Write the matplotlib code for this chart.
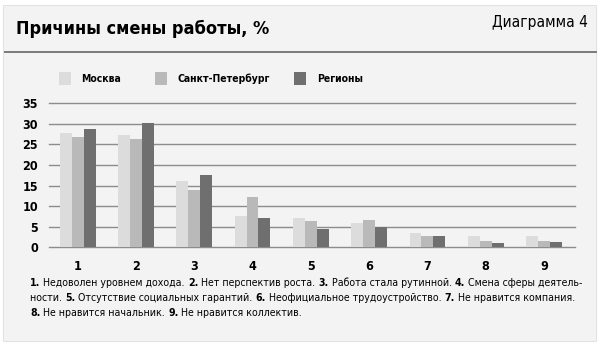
import matplotlib.pyplot as plt
import numpy as np
from matplotlib.patches import Rectangle
from matplotlib.lines import Line2D

# reasons for changing jobs, % of respondents
categories = ["1", "2", "3", "4", "5", "6", "7", "8", "9"]
moscow = [27.7, 27.4, 16.2, 7.5, 7.2, 5.8, 3.4, 2.8, 2.8]
spb = [26.8, 26.3, 14.0, 12.2, 6.3, 6.7, 2.7, 1.5, 1.5]
regions = [28.7, 30.1, 17.5, 7.1, 4.4, 5.0, 2.7, 1.1, 1.2]
series_names = ["Москва", "Санкт-Петербург", "Регионы"]
yticks = [0, 5, 10, 15, 20, 25, 30, 35]

plt.rcParams["font.family"] = "DejaVu Sans"
plt.rcParams["font.stretch"] = "condensed"
colors = ["#dcdcdc", "#b9b9b9", "#6f6f6f"]
bg = "#f3f3f3"

fig = plt.figure(figsize=(6, 3.47), dpi=100)
fig.patch.set_facecolor("white")
fig.canvas.draw()
renderer = fig.canvas.get_renderer()


def px(x, y):
    return x / 600, 1 - y / 347


def fit(t, width):
    # shrink/grow the font so the text spans the given pixel width
    w = t.get_window_extent(renderer).width
    t.set_fontsize(t.get_fontsize() * width / w)


# panel background and header rule
fig.add_artist(Rectangle(px(3, 341), 593 / 600, 336 / 347,
                         transform=fig.transFigure, facecolor=bg,
                         edgecolor="#e2e2e2", lw=0.8, zorder=0))
fig.add_artist(Line2D([5 / 600, 596 / 600], [1 - 52 / 347] * 2,
                      transform=fig.transFigure, color="#7a7a7a", lw=1.4))

title = fig.text(*px(16, 28.5), "Причины смены работы, %", fontsize=15,
                 fontweight="bold", va="center", ha="left")
fit(title, 254)
label = fig.text(*px(588, 22), "Диаграмма 4", fontsize=12,
                 va="center", ha="right")
fit(label, 95)

ax = fig.add_axes([49 / 600, 1 - 247.3 / 347, 526 / 600, 144 / 347])
ax.set_facecolor(bg)

x = np.arange(1, len(categories) + 1)
w = 0.205
for i, (vals, c) in enumerate(zip([moscow, spb, regions], colors)):
    ax.bar(x + (i - 1) * w, vals, width=w, color=c, zorder=3, lw=0)

for t in yticks:
    ax.axhline(t, color="#8c8c8c", lw=1, zorder=1, clip_on=False)

ax.set_xlim(0.51, 9.53)
ax.set_ylim(0, 35)
ax.set_yticks(yticks)
ax.set_xticks(x)
ax.set_xticklabels(categories)
for lab in ax.get_yticklabels() + ax.get_xticklabels():
    lab.set_fontweight("bold")
    lab.set_fontsize(9)
ax.tick_params(axis="y", length=0, pad=8)
ax.tick_params(axis="x", length=0, pad=9)
for s in ax.spines.values():
    s.set_visible(False)

# legend: swatches with bold labels
legend_items = [(59, 81), (155, 177), (294, 317)]
for (sx, tx), name, c in zip(legend_items, series_names, colors):
    fig.add_artist(Rectangle(px(sx, 85), 12 / 600, 13 / 347,
                             transform=fig.transFigure, facecolor=c, lw=0))
    fig.text(*px(tx, 78.5), name, fontsize=7.5, fontweight="bold",
             va="center", ha="left")

# footnote with numbered reasons
notes = [
    [("1.", True), (" Недоволен уровнем дохода. ", False), ("2.", True),
     (" Нет перспектив роста. ", False), ("3.", True),
     (" Работа стала рутинной. ", False), ("4.", True),
     (" Смена сферы деятель-", False)],
    [("ности. ", False), ("5.", True), (" Отсутствие социальных гарантий. ", False),
     ("6.", True), (" Неофициальное трудоустройство. ", False), ("7.", True),
     (" Не нравится компания.", False)],
    [("8.", True), (" Не нравится начальник. ", False), ("9.", True),
     (" Не нравится коллектив.", False)],
]


def place_line(parts, y, size):
    xpos = 30
    for txt, bold in parts:
        t = fig.text(xpos / 600, y, txt, fontsize=size,
                     fontweight="bold" if bold else "normal",
                     va="center", ha="left")
        xpos += t.get_window_extent(renderer).width
    return xpos


# measure the widest line at a trial size, then scale to fit the panel
probe = fig.text(0, 0, "".join(p for p, _ in notes[1]), fontsize=8)
note_size = 8 * 541 / probe.get_window_extent(renderer).width
probe.remove()
for row, parts in enumerate(notes):
    place_line(parts, 1 - (283 + row * 15) / 347, note_size)

fig.savefig("out.png", dpi=100, facecolor="white")
